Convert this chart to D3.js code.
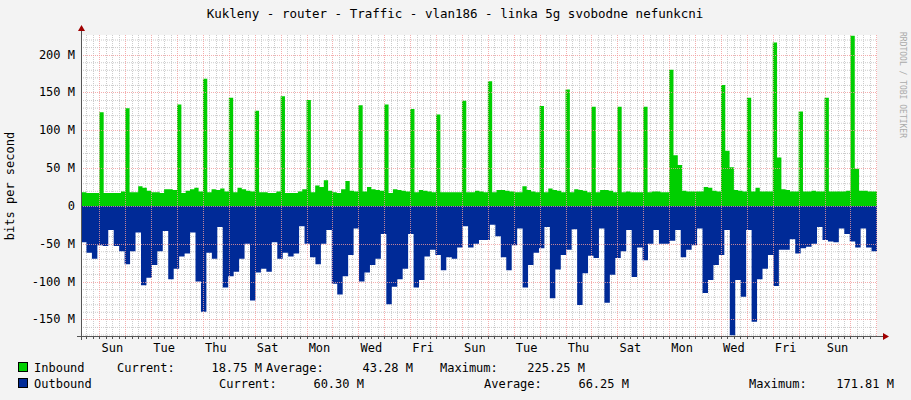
<!DOCTYPE html>
<html><head><meta charset="utf-8">
<script src="https://cdn.jsdelivr.net/npm/d3@7"></script>
<style>body{margin:0;background:#f3f3f3}svg{display:block}text{font-family:"DejaVu Sans Mono",monospace;}</style>
</head><body><svg id="c" width="911" height="400"></svg>
<script>
const title = "Kukleny - router - Traffic - vlan186 - linka 5g svobodne nefunkcni";
const dayLabels = ["Sun","Tue","Thu","Sat","Mon","Wed","Fri","Sun","Tue","Thu","Sat","Mon","Wed","Fri","Sun"];
const yTicks = [-150,-100,-50,0,50,100,150,200];
// inbound, Mbit/s, 4-hour bins starting 20h before the first Sunday midnight
const inbound = [18,18,17,17,17,
124,17,17,17,17,19, 129,18,18,26,24,20, 18,18,17,22,22,21, 134,17,20,22,24,19,
168,18,22,21,23,19, 143,18,24,22,20,19, 126,18,18,17,17,19, 145,17,17,17,19,22,
140,18,27,25,34,20, 18,17,22,33,20,19, 133,19,25,22,21,20, 134,17,22,21,20,19,
128,18,21,20,19,18, 121,18,18,18,18,18, 139,18,18,20,19,18, 165,18,21,21,20,19,
18,18,26,21,19,18, 132,18,23,21,20,18, 154,18,22,21,20,18, 131,18,21,21,20,18,
131,18,19,18,18,18, 131,18,19,19,18,18, 180,67,54,20,19,19, 19,19,25,24,20,19,
160,73,51,21,20,19, 143,19,24,19,19,19, 216,64,22,21,19,19, 125,19,19,20,19,19,
143,19,19,19,19,20, 225,49,20,20,19,19, 19];
// outbound, Mbit/s (shown negative), evenly spaced across the period
const outbound = [48,62,70,52,53,32,53,60,77,60,35,105,95,78,60,33,97,83,67,63,
35,100,140,62,70,28,108,93,87,70,50,125,88,83,87,48,70,62,67,63,
27,50,68,77,50,32,103,117,93,65,30,100,88,78,70,37,130,107,97,83,
37,108,98,67,58,65,85,68,70,55,27,55,50,45,
45,25,40,68,85,52,30,108,78,62,56,28,122,84,65,58,31,131,89,66,
69,30,128,91,69,60,32,94,55,72,50,32,50,50,46,32,68,58,52,30,
115,98,78,65,32,171,98,120,32,153,97,83,65,106,58,58,44,63,56,54,
50,28,45,47,48,30,37,47,55,30,55,60];
const legendIn = ["Inbound","18.75 M","43.28 M","225.25 M"];
const legendOut = ["Outbound","60.30 M","66.25 M","171.81 M"];

const svg = d3.select("#c");
const x = d3.scaleLinear().domain([-17, 720.6]).range([81, 877]);
const y = d3.scaleLinear().domain([-172, 226]).range([336, 35]);
svg.append("rect").attr("x",81).attr("y",35).attr("width",796).attr("height",301).attr("fill","#fff");
svg.append("text").attr("x",455).attr("y",18).attr("text-anchor","middle").attr("font-size",12.5).attr("fill","#000").text(title);
const g = svg.append("g");
// minor grid
for(let v=-170; v<=220; v+=10){ if(v%50===0) continue;
  g.append("line").attr("x1",81).attr("x2",877).attr("y1",y(v)+.5).attr("y2",y(v)+.5).attr("stroke","#ccc").attr("stroke-dasharray","1,1"); }
for(let h=-12; h<720; h+=6){ if(h%24===0) continue;
  g.append("line").attr("y1",35).attr("y2",336).attr("x1",Math.round(x(h))+.5).attr("x2",Math.round(x(h))+.5).attr("stroke","#ccc").attr("stroke-dasharray","1,1"); }
// data
const clip = svg.append("clipPath").attr("id","pc").append("rect").attr("x",81).attr("y",30).attr("width",796).attr("height",310);
const inPts = inbound.map((v,i)=>[-20+4*i, v]); inPts.push([-20+4*inbound.length, inbound[inbound.length-1]]);
const step = 737.6/outbound.length;
const outPts = outbound.map((v,i)=>[-17+step*i, -v]); outPts.push([720.6, -outbound[outbound.length-1]]);
const area = d3.area().curve(d3.curveStepAfter).x(d=>x(d[0])).y0(y(0)).y1(d=>y(d[1]));
svg.append("path").attr("clip-path","url(#pc)").attr("d",area(inPts)).attr("fill","#00CF00");
svg.append("path").attr("clip-path","url(#pc)").attr("d",area(outPts)).attr("fill","#002A97");
// major grid
const mg = svg.append("g");
yTicks.forEach(v=>{ mg.append("line").attr("x1",81).attr("x2",877).attr("y1",Math.round(y(v))+.5).attr("y2",Math.round(y(v))+.5).attr("stroke","#f29a9a").attr("stroke-dasharray","1,1").attr("opacity",0.8);
  svg.append("text").attr("x",75).attr("y",y(v)+4).attr("text-anchor","end").attr("font-size",12).attr("fill","#000").text(v===0?"0":v+" M"); });
for(let d=0; d<=30; d++){ mg.append("line").attr("y1",35).attr("y2",336).attr("x1",Math.round(x(24*d))+.5).attr("x2",Math.round(x(24*d))+.5).attr("stroke","#f29a9a").attr("stroke-dasharray","1,1").attr("opacity",0.8); }
dayLabels.forEach((t,i)=>svg.append("text").attr("x",x(48*i+12)).attr("y",352).attr("text-anchor","middle").attr("font-size",12).attr("fill","#000").text(t));
// axes
svg.append("line").attr("x1",77).attr("x2",883).attr("y1",336.5).attr("y2",336.5).attr("stroke","#555");
svg.append("line").attr("x1",81.5).attr("x2",81.5).attr("y1",340).attr("y2",30).attr("stroke","#555");
for(let h=-12; h<720; h+=6){ svg.append("line").attr("x1",Math.round(x(h))+.5).attr("x2",Math.round(x(h))+.5).attr("y1",336).attr("y2",339).attr("stroke","#555"); }
svg.append("path").attr("d","M883,333L889,336.5L883,340Z").attr("fill","#a00000");
svg.append("path").attr("d","M78,31L81.5,25L85,31Z").attr("fill","#a00000");
svg.append("text").attr("transform","translate(14,186) rotate(-90)").attr("text-anchor","middle").attr("font-size",12).attr("fill","#000").text("bits per second");
svg.append("text").attr("transform","translate(900,32) rotate(90)").attr("font-size",8).attr("fill","#aaa").text("RRDTOOL / TOBI OETIKER");
// legend
function row(yy,color,vals,pos){
  svg.append("rect").attr("x",18.5).attr("y",yy-9.5).attr("width",9).attr("height",9).attr("fill",color).attr("stroke","#000");
  svg.append("text").attr("x",34).attr("y",yy).attr("font-size",12).text(vals[0]);
  const labs=["Current:","Average:","Maximum:"];
  for(let k=0;k<3;k++){
    svg.append("text").attr("x",pos[k][0]).attr("y",yy).attr("font-size",12).text(labs[k]);
    svg.append("text").attr("x",pos[k][1]).attr("y",yy).attr("font-size",12).attr("text-anchor","end").text(vals[k+1]);
  }
}
row(372,"#00CF00",legendIn,[[117,262],[266,413],[440,585]]);
row(388,"#002A97",legendOut,[[219,364],[484,629],[749,894]]);
</script></body></html>
